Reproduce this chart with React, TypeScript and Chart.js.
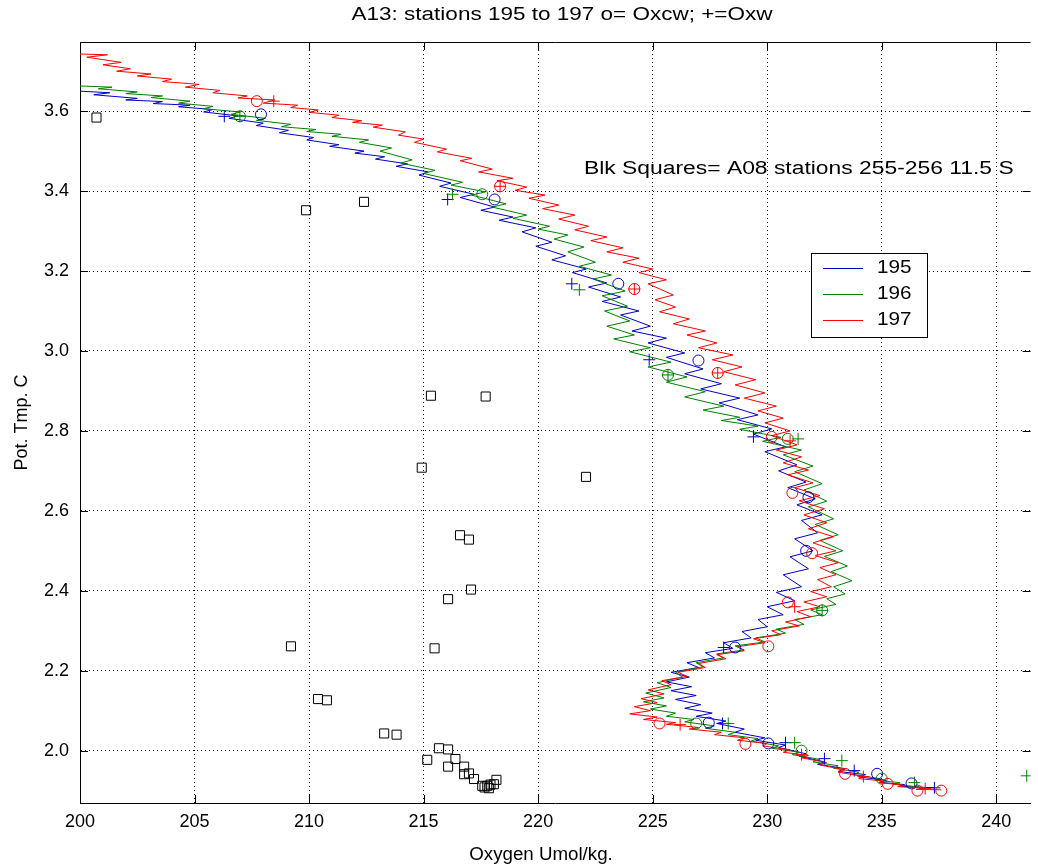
import React, { useEffect, useRef } from "react";
import { Chart, registerables } from "chart.js";

Chart.register(...registerables);

// ---------- text ----------
const titleText = "A13: stations 195 to 197 o= Oxcw; +=Oxw";
const xLabel = "Oxygen Umol/kg.";
const yLabel = "Pot. Tmp. C";
const noteText = "Blk Squares= A08 stations 255-256 11.5 S";
const seriesNames = ["195", "196", "197"];

// ---------- ticks ----------
const xTicks = [200, 205, 210, 215, 220, 225, 230, 235, 240];
const yTicks = [2, 2.2, 2.4, 2.6, 2.8, 3, 3.2, 3.4, 3.6];

// ---------- profiles [oxygen, pot. temp] ----------
const st195: [number, number][] = [
  [200.0,3.650],[201.3,3.646],[200.6,3.641],[202.5,3.632],[202.0,3.628],[203.6,3.624],[203.2,3.619],[204.8,3.615],[204.3,3.611],[205.8,3.604],
  [205.4,3.598],[206.9,3.588],[206.5,3.582],[208.0,3.570],[207.7,3.564],[209.1,3.552],[208.7,3.546],[210.2,3.534],[209.9,3.528],[211.3,3.516],
  [210.9,3.512],[212.4,3.500],[212.0,3.495],[213.3,3.486],[212.9,3.480],[214.3,3.468],[213.8,3.462],[215.2,3.448],[214.8,3.440],[216.2,3.420],
  [215.7,3.412],[217.2,3.392],[216.6,3.384],[218.1,3.360],[217.5,3.352],[218.9,3.335],[218.3,3.327],[219.9,3.308],[219.3,3.298],[220.6,3.272],
  [219.9,3.262],[221.2,3.238],[220.6,3.228],[222.1,3.205],[221.5,3.196],[223.0,3.170],[222.2,3.160],[223.6,3.135],[222.8,3.124],[224.4,3.100],
  [223.6,3.090],[224.9,3.062],[224.1,3.050],[225.6,3.032],[224.8,3.020],[226.4,2.995],[225.6,2.984],[227.2,2.955],[226.4,2.943],[228.0,2.918],
  [227.1,2.905],[228.8,2.882],[227.9,2.870],[229.6,2.840],[228.7,2.828],[230.2,2.805],[229.4,2.792],[230.8,2.760],[229.9,2.748],[231.3,2.715],
  [230.5,2.700],[231.7,2.672],[230.9,2.658],[232.1,2.630],[231.3,2.615],[232.4,2.590],[231.5,2.576],[232.2,2.545],[231.2,2.530],[232.0,2.500],
  [231.0,2.485],[231.8,2.455],[230.7,2.440],[231.5,2.410],[230.4,2.396],[231.2,2.375],[230.0,2.360],[230.7,2.340],[229.6,2.328],[230.0,2.310],
  [228.9,2.298],[229.3,2.282],[228.1,2.270],[228.5,2.256],[227.3,2.245],[227.7,2.232],[226.5,2.220],[227.0,2.208],[225.8,2.196],[226.6,2.184],
  [225.6,2.172],[226.7,2.160],[225.8,2.150],[226.9,2.138],[226.0,2.128],[227.1,2.115],[226.4,2.106],[227.6,2.094],[226.9,2.086],[228.2,2.074],
  [227.8,2.068],[229.0,2.054],[228.6,2.046],[229.9,2.032],[229.5,2.026],[230.8,2.014],[230.5,2.008],[231.7,1.992],[231.4,1.986],[232.5,1.972],
  [232.2,1.966],[233.4,1.955],[233.1,1.948],[234.3,1.940],[234.0,1.934],[235.2,1.926],[234.9,1.921],[236.0,1.915],[235.8,1.911],[236.9,1.908],
  [237.3,1.907],
];

const st196: [number, number][] = [
  [200.0,3.663],[201.4,3.660],[200.8,3.656],[202.5,3.648],[202.0,3.644],[203.6,3.638],[203.1,3.634],[204.8,3.625],[204.3,3.620],[205.8,3.612],
  [205.4,3.606],[207.0,3.598],[206.6,3.592],[208.1,3.582],[207.7,3.577],[209.2,3.567],[208.8,3.561],[210.3,3.554],[209.9,3.549],[211.4,3.542],
  [211.0,3.537],[212.6,3.528],[212.2,3.522],[213.6,3.508],[213.1,3.500],[214.5,3.478],[214.0,3.470],[215.5,3.452],[215.0,3.444],[216.7,3.422],
  [216.2,3.415],[217.7,3.398],[217.1,3.390],[218.6,3.368],[218.0,3.360],[219.5,3.340],[218.9,3.332],[220.5,3.312],[220.0,3.305],[221.3,3.290],
  [220.7,3.280],[222.0,3.260],[221.3,3.248],[222.5,3.222],[221.8,3.212],[223.2,3.190],[222.4,3.180],[223.8,3.150],[222.8,3.138],[223.9,3.112],
  [222.9,3.100],[224.0,3.075],[223.0,3.062],[224.2,3.040],[223.3,3.030],[224.9,3.008],[224.0,2.998],[225.8,2.972],[224.8,2.960],[226.5,2.935],
  [225.6,2.922],[227.3,2.898],[226.4,2.885],[228.1,2.862],[227.2,2.852],[228.8,2.834],[228.0,2.826],[229.6,2.812],[228.8,2.804],[230.6,2.784],
  [229.8,2.774],[231.5,2.752],[230.7,2.740],[232.0,2.712],[231.2,2.698],[232.4,2.668],[231.6,2.652],[232.6,2.624],[231.8,2.610],[232.9,2.580],
  [232.1,2.566],[233.1,2.540],[232.3,2.526],[233.3,2.500],[232.5,2.486],[233.5,2.462],[232.8,2.448],[233.7,2.425],[232.9,2.410],[233.4,2.392],
  [232.6,2.380],[233.0,2.366],[231.9,2.352],[232.4,2.340],[231.2,2.328],[231.6,2.316],[230.4,2.304],[230.8,2.294],[229.5,2.282],[229.9,2.272],
  [228.6,2.262],[229.0,2.252],[227.8,2.242],[228.1,2.232],[226.9,2.220],[227.2,2.210],[226.0,2.196],[226.3,2.184],[225.2,2.170],[225.8,2.158],
  [224.7,2.144],[225.5,2.132],[224.6,2.122],[225.6,2.112],[224.9,2.104],[226.0,2.094],[225.6,2.086],[226.8,2.078],[226.4,2.072],[227.7,2.062],
  [227.3,2.056],[228.6,2.046],[228.3,2.040],[229.6,2.030],[229.3,2.024],[230.5,2.012],[230.2,2.006],[231.4,1.996],[231.1,1.990],[232.3,1.978],
  [232.0,1.972],[233.1,1.962],[232.9,1.956],[234.0,1.946],[233.8,1.940],[234.9,1.930],[234.7,1.926],[235.8,1.920],[235.5,1.916],[236.5,1.910],
  [236.9,1.907],
];

const st197: [number, number][] = [
  [200.0,3.743],[201.2,3.741],[200.3,3.735],[201.8,3.722],[201.0,3.716],[202.2,3.706],[201.6,3.700],[203.1,3.693],[202.5,3.688],[204.0,3.680],
  [203.6,3.674],[205.2,3.667],[204.6,3.660],[206.1,3.652],[205.8,3.646],[207.3,3.638],[206.9,3.633],[208.5,3.628],[208.0,3.620],[209.5,3.615],
  [209.2,3.609],[210.4,3.603],[210.0,3.597],[211.3,3.590],[211.0,3.584],[212.3,3.576],[211.9,3.572],[213.2,3.565],[212.8,3.560],[214.2,3.548],
  [213.9,3.540],[215.0,3.530],[214.6,3.522],[216.0,3.505],[215.6,3.498],[217.1,3.482],[216.6,3.476],[218.0,3.455],[217.4,3.448],[218.9,3.432],
  [218.2,3.426],[219.5,3.410],[219.0,3.402],[220.3,3.390],[219.6,3.382],[220.9,3.365],[220.2,3.356],[221.6,3.340],[220.9,3.330],[222.2,3.312],
  [221.6,3.303],[223.0,3.285],[222.3,3.276],[223.7,3.258],[223.0,3.248],[224.4,3.232],[223.7,3.222],[225.0,3.205],[224.4,3.196],[225.6,3.178],
  [224.8,3.168],[225.9,3.140],[225.1,3.128],[226.0,3.110],[225.3,3.098],[226.6,3.080],[225.9,3.068],[227.3,3.050],[226.5,3.040],[227.8,3.020],
  [227.0,3.008],[228.5,2.990],[227.6,2.978],[228.9,2.960],[228.1,2.948],[229.5,2.928],[228.6,2.915],[229.9,2.895],[229.0,2.882],[230.4,2.862],
  [229.6,2.850],[230.7,2.832],[229.9,2.820],[231.0,2.800],[230.2,2.788],[231.3,2.765],[230.4,2.752],[231.5,2.735],[230.7,2.720],[231.8,2.702],
  [230.9,2.690],[232.0,2.670],[231.2,2.658],[232.3,2.638],[231.4,2.625],[232.5,2.605],[231.6,2.590],[232.6,2.570],[231.8,2.555],[232.9,2.535],
  [232.0,2.520],[233.0,2.500],[232.1,2.488],[233.1,2.470],[232.3,2.458],[233.0,2.440],[232.2,2.428],[232.8,2.410],[231.9,2.398],[232.6,2.385],
  [231.6,2.372],[232.3,2.360],[231.3,2.348],[231.9,2.335],[230.8,2.322],[231.4,2.312],[230.2,2.300],[230.6,2.290],[229.4,2.280],[229.9,2.270],
  [228.7,2.260],[229.0,2.250],[227.8,2.240],[228.2,2.230],[227.0,2.218],[227.3,2.208],[226.1,2.196],[226.5,2.186],[225.4,2.175],[225.8,2.165],
  [224.8,2.152],[225.5,2.142],[224.5,2.130],[225.2,2.120],[224.2,2.110],[224.9,2.100],[224.0,2.092],[225.2,2.084],[224.6,2.078],[226.0,2.070],
  [225.6,2.066],[227.0,2.058],[226.6,2.054],[228.0,2.046],[227.7,2.040],[229.0,2.032],[228.7,2.026],[230.0,2.018],[229.8,2.012],[231.0,2.002],
  [230.7,1.996],[231.8,1.988],[231.5,1.982],[232.6,1.970],[232.3,1.964],[233.4,1.952],[233.1,1.946],[234.2,1.936],[234.0,1.930],[235.1,1.924],
  [234.9,1.920],[235.9,1.914],[235.7,1.910],[236.8,1.906],[236.5,1.903],[237.6,1.902],
];

// ---------- bottle markers: o = Oxcw, + = Oxw ----------
const circ195: [number, number][] = [
  [207.9,3.592],[218.1,3.379],[223.5,3.168],[227.0,2.976],[231.8,2.634],[231.7,2.500],[228.6,2.258],
  [227.45,2.070],[230.05,2.018],[234.8,1.942],[236.3,1.918],
];
const plus195: [number, number][] = [
  [206.3,3.587],[216.05,3.379],[221.47,3.168],[224.85,2.978],[229.4,2.785],[228.1,2.258],[228.05,2.068],
  [230.8,2.020],[232.5,1.980],[233.8,1.950],[237.3,1.907],
];
const circ196: [number, number][] = [
  [206.98,3.587],[217.56,3.392],[225.67,2.940],[230.9,2.780],[232.4,2.351],[226.9,2.068],[231.5,2.000],[235.0,1.930],
];
const plus196: [number, number][] = [
  [206.98,3.587],[216.26,3.392],[221.8,3.153],[225.67,2.940],[231.35,2.780],[232.4,2.351],[228.3,2.068],
  [231.2,2.020],[233.26,1.975],[236.43,1.920],[241.33,1.937],
];
const circ197: [number, number][] = [
  [207.72,3.625],[218.34,3.412],[224.2,3.155],[227.84,2.945],[230.2,2.785],[231.1,2.645],[231.96,2.494],
  [230.9,2.371],[230.05,2.261],[225.3,2.068],[229.05,2.017],[233.4,1.942],[235.26,1.917],[236.56,1.900],[237.6,1.900],
];
const plus197: [number, number][] = [
  [208.46,3.625],[218.34,3.412],[224.2,3.155],[227.84,2.945],[231.0,2.775],[231.2,2.360],[226.2,2.065],
  [231.5,1.990],[234.2,1.935],[236.9,1.905],
];

// ---------- A08 stations 255-256 (black squares) ----------
const squaresA08: [number, number][] = [
  [200.72,3.584],[209.87,3.352],[212.4,3.373],[222.09,2.685],[215.32,2.888],[217.71,2.886],[214.92,2.708],
  [216.59,2.539],[216.98,2.528],[217.07,2.403],[216.07,2.379],[209.21,2.261],[215.48,2.256],[210.39,2.129],
  [210.78,2.126],[213.28,2.043],[213.82,2.040],[215.67,2.006],[216.07,2.003],[215.16,1.977],[216.39,1.979],
  [216.07,1.960],[216.77,1.960],[216.98,1.943],[216.77,1.941],[217.2,1.929],[217.56,1.912],[217.78,1.912],
  [217.92,1.915],[218.18,1.927],[218.07,1.916],[217.66,1.908],[217.85,1.906],
];

const BLUE = "#0000c8";
const GREEN = "#008000";
const RED = "#ff0000";
const FONT = '"Liberation Sans", Arial, Helvetica, sans-serif';

const pts = (a: [number, number][]) => a.map(([x, y]) => ({ x, y }));

const lineDs = (label: string, data: [number, number][], color: string) => ({
  label,
  data: pts(data),
  showLine: true,
  borderColor: color,
  backgroundColor: color,
  borderWidth: 1,
  pointRadius: 0,
  tension: 0,
  fill: false,
});

const markDs = (label: string, data: [number, number][], color: string, style: string, r: number) => ({
  label,
  data: pts(data),
  showLine: false,
  borderColor: color,
  backgroundColor: "rgba(0,0,0,0)",
  pointBorderColor: color,
  pointBackgroundColor: "rgba(0,0,0,0)",
  pointBorderWidth: 1,
  pointStyle: style,
  pointRadius: r,
});

const decorPlugin = {
  id: "decor",
  afterDraw(chart: any) {
    const { ctx, chartArea: a, scales } = chart;
    const xs = scales.x, ys = scales.y;
    ctx.save();
    // top frame line
    ctx.strokeStyle = "#000";
    ctx.lineWidth = 1;
    ctx.beginPath();
    ctx.moveTo(a.left, Math.round(a.top) + 0.5);
    ctx.lineTo(a.right, Math.round(a.top) + 0.5);
    // inward tick marks
    for (const v of xTicks) {
      const px = Math.round(xs.getPixelForValue(v)) + 0.5;
      ctx.moveTo(px, a.bottom);
      ctx.lineTo(px, a.bottom - 8);
      ctx.moveTo(px, a.top);
      ctx.lineTo(px, a.top + 8);
    }
    for (const v of yTicks) {
      const py = Math.round(ys.getPixelForValue(v)) + 0.5;
      ctx.moveTo(a.left, py);
      ctx.lineTo(a.left + 8, py);
      ctx.moveTo(a.right, py);
      ctx.lineTo(a.right - 8, py);
    }
    ctx.stroke();

    const stretchText = (t: string, x: number, y: number, align: string, k: number) => {
      ctx.save();
      ctx.font = `18px ${FONT}`;
      ctx.fillStyle = "#000";
      ctx.textBaseline = "middle";
      const w = ctx.measureText(t).width * k;
      let x0 = x;
      if (align === "center") x0 = x - w / 2;
      ctx.translate(x0, y);
      ctx.scale(k, 1);
      ctx.textAlign = "left";
      ctx.fillText(t, 0, 0);
      ctx.restore();
    };

    // title
    stretchText(titleText, 562, 15, "center", 1.25);
    // x-axis label
    stretchText(xLabel, 541, 855, "center", 1.04);
    // note text
    stretchText(noteText, xs.getPixelForValue(222.0), ys.getPixelForValue(3.455), "left", 1.27);

    // legend
    const lx = 811, ly = 253, lw = 116, lh = 84;
    ctx.fillStyle = "#fff";
    ctx.fillRect(lx, ly, lw, lh);
    ctx.strokeStyle = "#000";
    ctx.lineWidth = 1;
    ctx.strokeRect(lx + 0.5, ly + 0.5, lw, lh);
    const cols = [BLUE, GREEN, RED];
    seriesNames.forEach((n, i) => {
      const yy = ly + 15.5 + i * 26;
      ctx.strokeStyle = cols[i];
      ctx.beginPath();
      ctx.moveTo(lx + 12, yy);
      ctx.lineTo(lx + 52, yy);
      ctx.stroke();
      stretchText(n, lx + 66, yy, "left", 1.15);
    });
    ctx.restore();
  },
};

export default function App() {
  const ref = useRef<HTMLCanvasElement>(null);
  useEffect(() => {
    const tickFont = { family: FONT, size: 18 };
    const chart = new Chart(ref.current!, {
      type: "scatter",
      data: {
        datasets: [
          markDs("sq", squaresA08, "#000", "rect", 6.4),
          markDs("c197", circ197, RED, "circle", 5.5),
          markDs("p197", plus197, RED, "cross", 6),
          markDs("c196", circ196, GREEN, "circle", 5.5),
          markDs("p196", plus196, GREEN, "cross", 6),
          markDs("c195", circ195, BLUE, "circle", 5.5),
          markDs("p195", plus195, BLUE, "cross", 6),
          lineDs(seriesNames[2], st197, RED),
          lineDs(seriesNames[1], st196, GREEN),
          lineDs(seriesNames[0], st195, BLUE),
        ] as any,
      },
      options: {
        responsive: false,
        animation: false,
        devicePixelRatio: 1,
        events: [],
        layout: { padding: { top: 42, left: 0, right: 0, bottom: 0 } },
        plugins: { legend: { display: false }, tooltip: { enabled: false }, title: { display: false } },
        scales: {
          x: {
            type: "linear",
            min: 200,
            max: 241.5,
            afterBuildTicks: (s: any) => { s.ticks = xTicks.map((v) => ({ value: v })); },
            afterFit: (s: any) => { s.height = 63; },
            ticks: { font: tickFont, color: "#000", padding: 8, maxRotation: 0, autoSkip: false },
            grid: { color: "#000", lineWidth: 1, drawTicks: false },
            border: { display: true, color: "#000", width: 1, dash: [1, 3] },
            title: { display: false, text: xLabel },
          },
          y: {
            type: "linear",
            min: 1.869,
            max: 3.773,
            afterBuildTicks: (s: any) => { s.ticks = yTicks.map((v) => ({ value: v })); },
            afterFit: (s: any) => { s.width = 80; },
            ticks: { font: tickFont, color: "#000", padding: 11 },
            grid: { color: "#000", lineWidth: 1, drawTicks: false },
            border: { display: true, color: "#000", width: 1, dash: [1, 3] },
            title: { display: true, text: yLabel, font: tickFont, color: "#000", padding: { top: 11, bottom: 0 } },
          },
        },
      } as any,
      plugins: [decorPlugin],
    });
    return () => chart.destroy();
  }, []);
  return (
    <div style={{ position: "absolute", left: 0, top: 0, width: 1038, height: 866, background: "#fff" }}>
      <canvas ref={ref} width={1038} height={866} style={{ display: "block" }} />
    </div>
  );
}
